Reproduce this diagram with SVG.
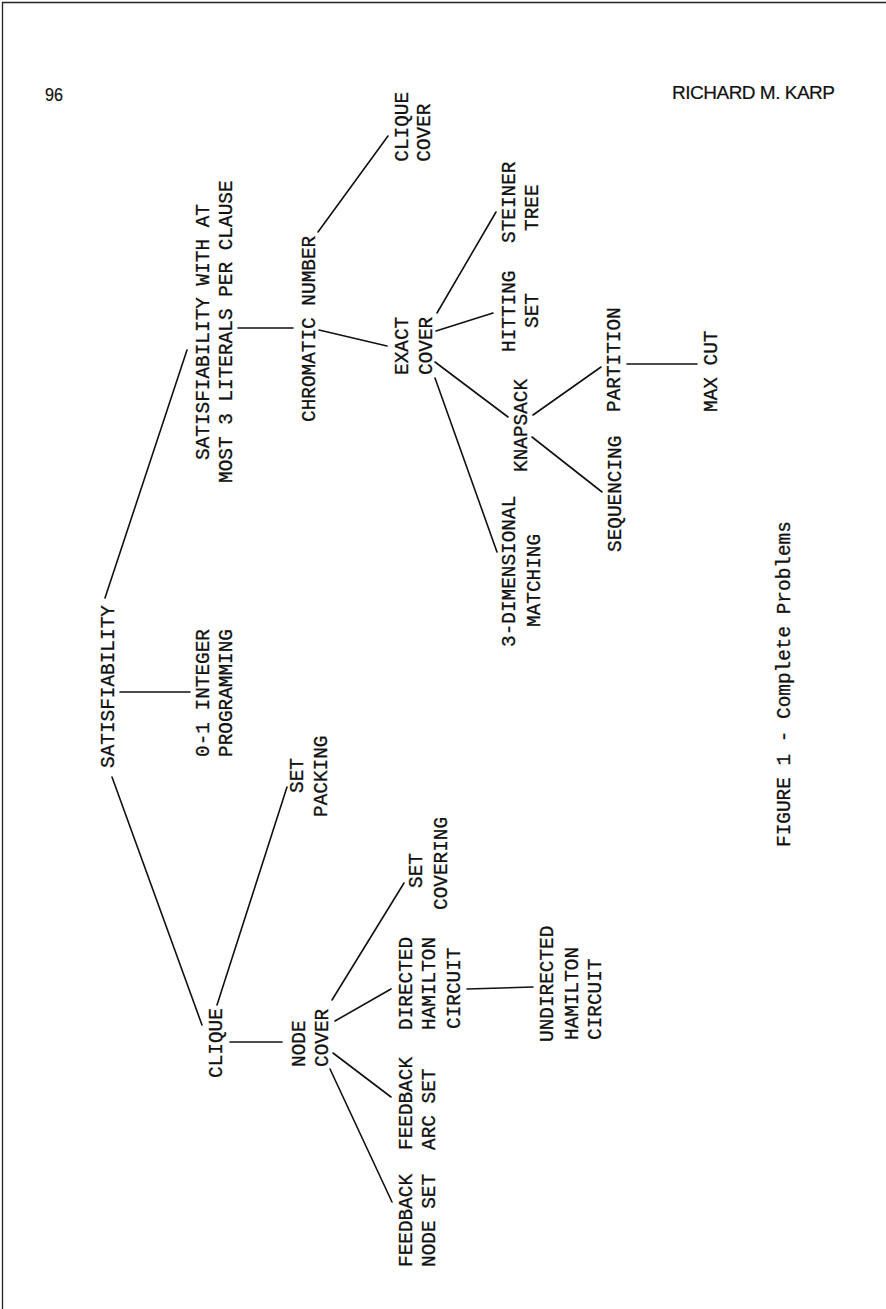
<svg xmlns="http://www.w3.org/2000/svg" width="886" height="1309" viewBox="0 0 886 1309">
<style>
.t{font-family:"Liberation Mono","Courier New",monospace;font-size:19.4px;fill:#111;stroke:#111;stroke-width:0.3;}
.h{font-family:"Liberation Sans",Arial,sans-serif;font-size:19px;fill:#111;stroke:#111;stroke-width:0.2;}
.c line{stroke:#111;stroke-width:1.6;stroke-linecap:round;}
.b{stroke:#222;stroke-width:1.3;fill:none;}
</style>
<rect width="886" height="1309" fill="#fff"/>
<path class="b" d="M2.5,1309 V2.5 H886"/>
<g id="header">
<text class="h" x="45" y="101" font-size="20" textLength="18" lengthAdjust="spacingAndGlyphs">96</text>
<text class="h" x="672" y="99" textLength="163">RICHARD M. KARP</text>
</g>
<g class="c" id="connectors">
<line x1="105" y1="598" x2="187" y2="350"/>
<line x1="120" y1="692" x2="190" y2="692"/>
<line x1="112" y1="777" x2="202" y2="1025"/>
<line x1="238" y1="328" x2="293" y2="328"/>
<line x1="318" y1="232" x2="388" y2="136"/>
<line x1="319" y1="330" x2="387" y2="346"/>
<line x1="437" y1="313" x2="496" y2="212"/>
<line x1="436" y1="331" x2="493" y2="313"/>
<line x1="435" y1="362" x2="508" y2="417"/>
<line x1="435" y1="378" x2="497" y2="552"/>
<line x1="533" y1="415" x2="601" y2="367"/>
<line x1="532" y1="437" x2="602" y2="492"/>
<line x1="627" y1="364" x2="697" y2="364"/>
<line x1="217" y1="1005" x2="287" y2="787"/>
<line x1="230" y1="1042" x2="282" y2="1042"/>
<line x1="332" y1="1000" x2="404" y2="883"/>
<line x1="335" y1="1021" x2="391" y2="989"/>
<line x1="333" y1="1053" x2="391" y2="1097"/>
<line x1="330" y1="1069" x2="392" y2="1202"/>
<line x1="467" y1="989" x2="533" y2="987"/>
</g>
<g id="sat"><text class="t" transform="translate(113.5,768) rotate(-90)">SATISFIABILITY</text></g>
<g id="sat3">
<text class="t" transform="translate(209,460) rotate(-90)">SATISFIABILITY WITH AT</text>
<text class="t" transform="translate(232,483) rotate(-90)">MOST 3 LITERALS PER CLAUSE</text>
</g>
<g id="ip">
<text class="t" transform="translate(208.5,757) rotate(-90)">0-1 INTEGER</text>
<text class="t" transform="translate(232,757) rotate(-90)">PROGRAMMING</text>
</g>
<g id="chromatic"><text class="t" transform="translate(315,422) rotate(-90)">CHROMATIC NUMBER</text></g>
<g id="cliquecover">
<text class="t" transform="translate(408,161.7) rotate(-90)">CLIQUE</text>
<text class="t" transform="translate(430,161.7) rotate(-90)">COVER</text>
</g>
<g id="exactcover">
<text class="t" transform="translate(408,375) rotate(-90)">EXACT</text>
<text class="t" transform="translate(432,375) rotate(-90)">COVER</text>
</g>
<g id="steiner">
<text class="t" transform="translate(515,243) rotate(-90)">STEINER</text>
<text class="t" transform="translate(538,231) rotate(-90)">TREE</text>
</g>
<g id="hitting">
<text class="t" transform="translate(515,352) rotate(-90)">HITTING</text>
<text class="t" transform="translate(538,328) rotate(-90)">SET</text>
</g>
<g id="knapsack"><text class="t" transform="translate(527,472) rotate(-90)">KNAPSACK</text></g>
<g id="partition"><text class="t" transform="translate(620,412) rotate(-90)">PARTITION</text></g>
<g id="sequencing"><text class="t" transform="translate(621,552) rotate(-90)">SEQUENCING</text></g>
<g id="maxcut"><text class="t" transform="translate(717,412) rotate(-90)">MAX CUT</text></g>
<g id="matching3d">
<text class="t" transform="translate(515,647) rotate(-90)">3-DIMENSIONAL</text>
<text class="t" transform="translate(540,627) rotate(-90)">MATCHING</text>
</g>
<g id="setpacking">
<text class="t" transform="translate(303,793) rotate(-90)">SET</text>
<text class="t" transform="translate(327,817) rotate(-90)">PACKING</text>
</g>
<g id="clique"><text class="t" transform="translate(222,1078) rotate(-90)">CLIQUE</text></g>
<g id="nodecover">
<text class="t" transform="translate(305,1067) rotate(-90)">NODE</text>
<text class="t" transform="translate(328,1067) rotate(-90)">COVER</text>
</g>
<g id="setcovering">
<text class="t" transform="translate(422,888) rotate(-90)">SET</text>
<text class="t" transform="translate(447,910) rotate(-90)">COVERING</text>
</g>
<g id="dhc">
<text class="t" transform="translate(412,1030) rotate(-90)">DIRECTED</text>
<text class="t" transform="translate(435,1030) rotate(-90)">HAMILTON</text>
<text class="t" transform="translate(460,1029) rotate(-90)">CIRCUIT</text>
</g>
<g id="uhc">
<text class="t" transform="translate(553,1042) rotate(-90)">UNDIRECTED</text>
<text class="t" transform="translate(578,1040) rotate(-90)">HAMILTON</text>
<text class="t" transform="translate(601,1040) rotate(-90)">CIRCUIT</text>
</g>
<g id="fas">
<text class="t" transform="translate(412,1150) rotate(-90)">FEEDBACK</text>
<text class="t" transform="translate(435,1150) rotate(-90)">ARC SET</text>
</g>
<g id="fns">
<text class="t" transform="translate(412,1267) rotate(-90)">FEEDBACK</text>
<text class="t" transform="translate(435,1267) rotate(-90)">NODE SET</text>
</g>
<g id="caption"><text class="t" transform="translate(790,847) rotate(-90)">FIGURE 1 - Complete Problems</text></g>
</svg>
